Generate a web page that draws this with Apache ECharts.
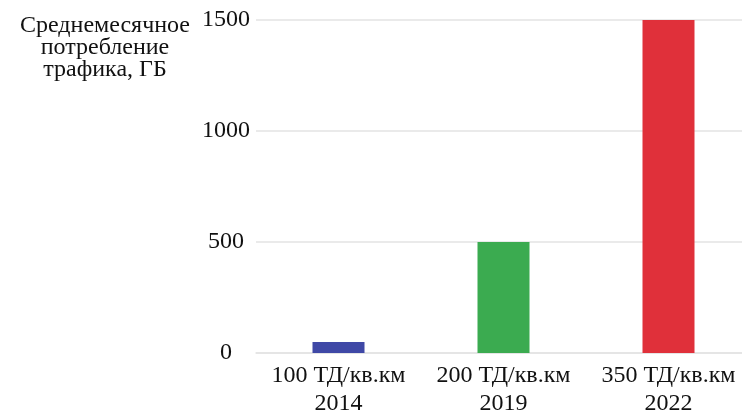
<!DOCTYPE html>
<html>
<head>
<meta charset="utf-8">
<script src="https://cdn.jsdelivr.net/npm/echarts@6/dist/echarts.min.js"></script>
<style>
  html, body { margin: 0; padding: 0; background: #fff; overflow: hidden; width: 742px; height: 418px; }
  #chart { width: 751px; height: 418px; }
</style>
</head>
<body>
<div id="chart"></div>
<script>
// Traffic consumption by subscriber density and year
const densities = ['100 ТД/кв.км', '200 ТД/кв.км', '350 ТД/кв.км'];
const years = ['2014', '2019', '2022'];
const trafficGb = [50, 500, 1500];
const barColors = ['#3f48a6', '#3bab50', '#e0303a'];
const yTicks = [0, 500, 1000, 1500];
const axisTitle = 'Среднемесячное\nпотребление\nтрафика, ГБ';

const categories = densities.map((d, i) => d + '\n' + years[i]);
const font = 'Liberation Serif, Times New Roman, serif';

const chart = echarts.init(document.getElementById('chart'));
chart.setOption({
  animation: false,
  title: {
    text: axisTitle,
    left: 100,
    top: 10,
    textAlign: 'center',
    textStyle: {
      fontFamily: font,
      fontSize: 24,
      fontWeight: 'normal',
      color: '#111',
      lineHeight: 22
    }
  },
  grid: { left: 256, right: 0, top: 20, bottom: 62 },
  xAxis: {
    type: 'category',
    data: categories,
    axisLine: { show: true, lineStyle: { color: '#e3e3e3', width: 1.5 } },
    axisTick: { show: false },
    axisLabel: {
      interval: 0,
      fontFamily: font,
      fontSize: 24,
      color: '#111',
      lineHeight: 28,
      margin: 9
    }
  },
  yAxis: {
    type: 'value',
    min: yTicks[0],
    max: yTicks[yTicks.length - 1],
    interval: yTicks[1] - yTicks[0],
    axisLine: { show: false },
    axisTick: { show: false },
    splitLine: { lineStyle: { color: '#e3e3e3', width: 1.5 } },
    axisLabel: {
      fontFamily: font,
      fontSize: 24,
      color: '#111',
      align: 'center',
      margin: 30,
      formatter: v => String(v)
    }
  },
  series: [{
    type: 'bar',
    data: trafficGb.map((v, i) => ({ value: v, itemStyle: { color: barColors[i] } })),
    barWidth: 52
  }]
});
</script>
</body>
</html>
